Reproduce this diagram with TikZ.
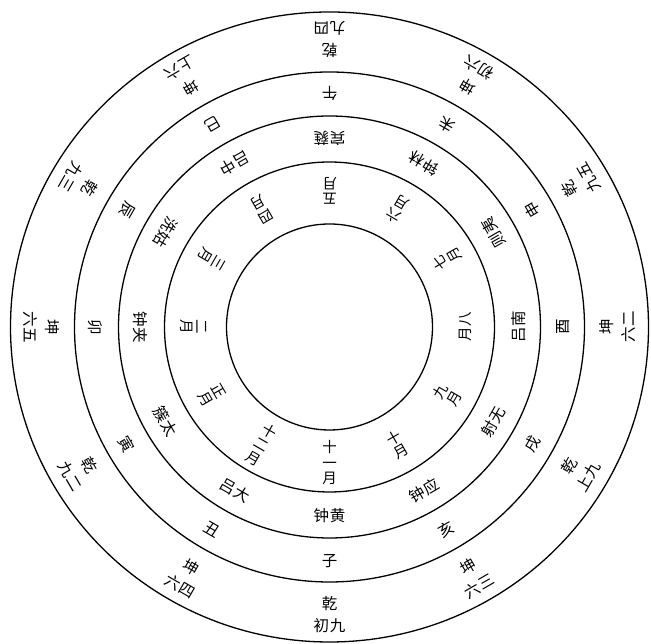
\documentclass[tikz,border=0pt]{standalone}
\usepackage{fontspec}
\newfontfamily\cjk[LetterSpace=6]{Noto Sans CJK SC}
\begin{document}
\begin{tikzpicture}[x=1pt,y=1pt,
  ring/.style={line width=1.3pt},
  lab/.style={font=\cjk\fontsize{15.5}{15.5}\selectfont, inner sep=0pt, align=center},
  monthlab/.style={font=\cjk\fontsize{14.5}{15.5}\selectfont, inner sep=0pt, align=center},
  yaolab/.style={font=\cjk\fontsize{15.5}{22}\selectfont, inner sep=0pt, align=center}]
\useasboundingbox (0,0) rectangle (651,644);
\coordinate (O) at (329.5,317);
% rings
\draw[ring] (O) circle[radius=103];
\draw[ring] (O) circle[radius=165];
\draw[ring] (O) circle[radius=211];
\draw[ring] (O) circle[radius=255];
\draw[ring] (O) ellipse[x radius=319,y radius=315];
% months
\foreach \a/\t [count=\i] in {-90/{十\\一\\月},-120/{十\\二\\月},-150/{正\\月},180/{二\\月},150/{三\\月},120/{四\\月},90/{五\\月},60/{六\\月},30/{七\\月},0/{月八},-30/{九\\月},-60/{十\\月}}
  \node[monthlab, rotate=\a+90] (m\i) at ([shift={(\a:136)}]O) {\t};
% pitch pipes
\foreach \a/\t [count=\i] in {-90/钟黄,-120/吕大,-150/簇太,180/钟夹,150/洗姑,120/吕中,90/宾蕤,60/钟林,30/则夷,0/吕南,-30/射无,-60/钟应}
  \node[lab, rotate=\a+90] (l\i) at ([shift={(\a:189)}]O) {\t};
% branches
\foreach \a/\t [count=\i] in {-90/子,-120/丑,-150/寅,180/卯,150/辰,120/巳,90/午,60/未,30/申,0/酉,-30/戌,-60/亥}
  \node[lab, rotate=\a+90] (b\i) at ([shift={(\a:234)}]O) {\t};
% yao
\foreach \a/\t [count=\i] in {-90/{乾\\初九},-120/{坤\\六四},-150/{乾\\九二},180/{坤\\六五},150/{乾\\九三},120/{坤\\上六},90/{乾\\九四},60/{坤\\初六},30/{乾\\九五},0/{坤\\六二},-30/{乾\\上九},-60/{坤\\六三}}
  \node[yaolab, rotate=\a+90] (y\i) at ([shift={(\a:288)}]O) {\t};
\end{tikzpicture}
\end{document}
